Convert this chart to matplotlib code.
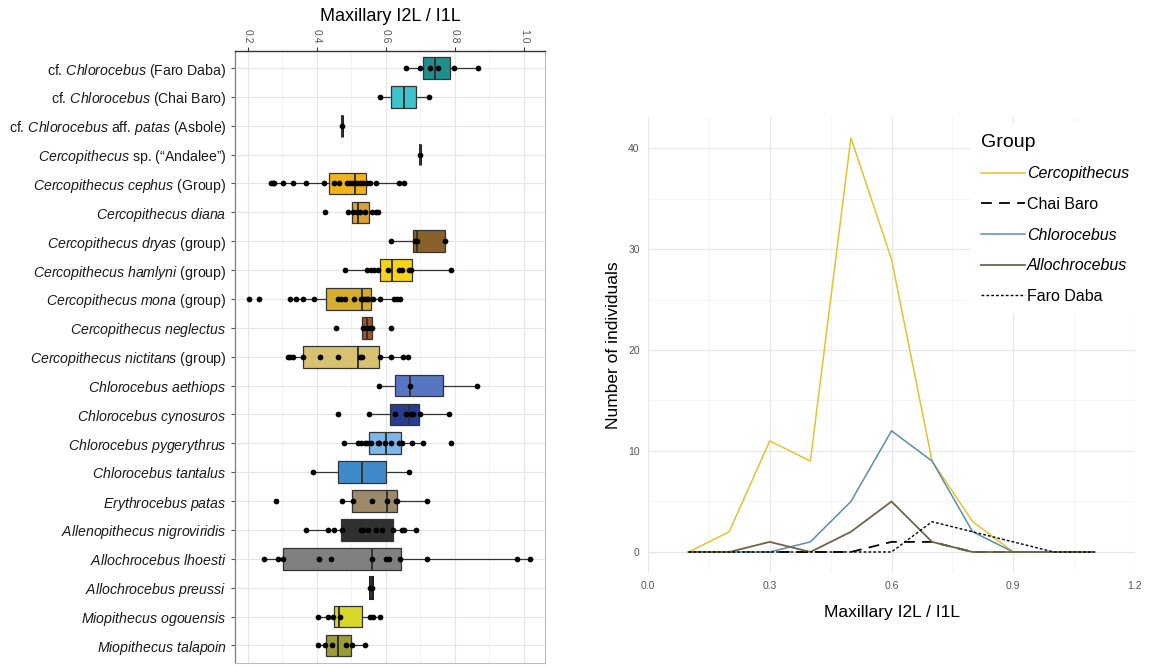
import matplotlib
matplotlib.use('Agg')
import matplotlib.pyplot as plt
from matplotlib.lines import Line2D

plt.rcParams['font.family'] = ['Liberation Sans', 'DejaVu Sans']
plt.rcParams['mathtext.fontset'] = 'custom'
plt.rcParams['mathtext.rm'] = 'Liberation Sans'
plt.rcParams['mathtext.it'] = 'Liberation Sans:italic'

# ---------------- Left panel data (box plot) ----------------
categories = [
    r"cf. $\mathit{Chlorocebus}$ (Faro Daba)",
    r"cf. $\mathit{Chlorocebus}$ (Chai Baro)",
    r"cf. $\mathit{Chlorocebus}$ aff. $\mathit{patas}$ (Asbole)",
    r"$\mathit{Cercopithecus}$ sp. (“Andalee”)",
    r"$\mathit{Cercopithecus\ cephus}$ (Group)",
    r"$\mathit{Cercopithecus\ diana}$ ",
    r"$\mathit{Cercopithecus\ dryas}$ (group)",
    r"$\mathit{Cercopithecus\ hamlyni}$ (group)",
    r"$\mathit{Cercopithecus\ mona}$ (group)",
    r"$\mathit{Cercopithecus\ neglectus}$ ",
    r"$\mathit{Cercopithecus\ nictitans}$ (group)",
    r"$\mathit{Chlorocebus\ aethiops}$",
    r"$\mathit{Chlorocebus\ cynosuros}$",
    r"$\mathit{Chlorocebus\ pygerythrus}$",
    r"$\mathit{Chlorocebus\ tantalus}$",
    r"$\mathit{Erythrocebus\ patas}$ ",
    r"$\mathit{Allenopithecus\ nigroviridis}$",
    r"$\mathit{Allochrocebus\ lhoesti}$ ",
    r"$\mathit{Allochrocebus\ preussi}$ ",
    r"$\mathit{Miopithecus\ ogouensis}$",
    r"$\mathit{Miopithecus\ talapoin}$",
]

whislo = [0.657, 0.584, 0.472, 0.700, 0.267, 0.489, 0.614, 0.481, 0.322, 0.530, 0.317,
          0.579, 0.551, 0.479, 0.389, 0.474, 0.369, 0.246, 0.553, 0.402, 0.404]
q1 = [0.708, 0.615, 0.472, 0.700, 0.436, 0.501, 0.680, 0.584, 0.427, 0.530, 0.360,
      0.627, 0.612, 0.551, 0.461, 0.501, 0.471, 0.302, 0.553, 0.450, 0.426]
med = [0.741, 0.652, 0.472, 0.700, 0.511, 0.520, 0.689, 0.618, 0.532, 0.544, 0.520,
       0.670, 0.667, 0.601, 0.531, 0.602, 0.549, 0.561, 0.558, 0.465, 0.462]
q3 = [0.787, 0.686, 0.472, 0.700, 0.542, 0.552, 0.771, 0.677, 0.557, 0.561, 0.581,
      0.765, 0.697, 0.643, 0.601, 0.632, 0.622, 0.643, 0.560, 0.532, 0.498]
whishi = [0.867, 0.724, 0.472, 0.700, 0.652, 0.578, 0.771, 0.789, 0.641, 0.561, 0.665,
          0.863, 0.784, 0.708, 0.668, 0.719, 0.687, 1.017, 0.560, 0.583, 0.539]

observations = [
    [0.657, 0.699, 0.729, 0.751, 0.797, 0.867],
    [0.584, 0.724],
    [0.472],
    [0.700],
    [0.267, 0.272, 0.276, 0.301, 0.331, 0.370, 0.421, 0.449, 0.465, 0.486, 0.496,
     0.505, 0.515, 0.525, 0.534, 0.544, 0.554, 0.570, 0.638, 0.652],
    [0.425, 0.489, 0.505, 0.515, 0.525, 0.539, 0.560, 0.570, 0.578],
    [0.614, 0.683, 0.689, 0.771],
    [0.481, 0.545, 0.557, 0.566, 0.576, 0.605, 0.639, 0.648, 0.667, 0.672, 0.789],
    [0.204, 0.233, 0.322, 0.341, 0.359, 0.392, 0.462, 0.471, 0.481, 0.508, 0.529,
     0.534, 0.539, 0.544, 0.548, 0.563, 0.583, 0.624, 0.631, 0.641],
    [0.455, 0.535, 0.545, 0.555, 0.560, 0.614],
    [0.317, 0.322, 0.331, 0.360, 0.408, 0.462, 0.525, 0.532, 0.583, 0.614, 0.650, 0.665],
    [0.579, 0.670, 0.863],
    [0.460, 0.551, 0.627, 0.658, 0.672, 0.680, 0.700, 0.784],
    [0.479, 0.520, 0.529, 0.539, 0.546, 0.558, 0.578, 0.580, 0.597, 0.615, 0.639,
     0.646, 0.675, 0.708, 0.788],
    [0.389, 0.668],
    [0.283, 0.474, 0.505, 0.561, 0.603, 0.628, 0.632, 0.719],
    [0.369, 0.431, 0.450, 0.474, 0.529, 0.534, 0.547, 0.570, 0.589, 0.621, 0.647,
     0.652, 0.687],
    [0.246, 0.288, 0.302, 0.406, 0.442, 0.561, 0.599, 0.610, 0.641, 0.719, 0.981, 1.017],
    [0.553, 0.560],
    [0.402, 0.433, 0.447, 0.466, 0.553, 0.562, 0.583],
    [0.404, 0.424, 0.443, 0.485, 0.501, 0.539],
]

box_colors = ['#1F8E8C', '#3CC3CC', '#333333', '#333333', '#F2B21C', '#D9A232',
              '#8A6128', '#F7D417', '#D4AE2C', '#A5542A', '#D6C271',
              '#5675C2', '#283E92', '#7CB6EA', '#3F8BC9', '#9D8A69',
              '#303030', '#808080', '#333333', '#D6D62B', '#9C9C3B']

# ---------------- Right panel data (frequency polygons) ----------------
bin_centres = [0.1, 0.2, 0.3, 0.4, 0.5, 0.6, 0.7, 0.8, 0.9, 1.0, 1.1]
groups = ['Cercopithecus', 'Chai Baro', 'Chlorocebus', 'Allochrocebus', 'Faro Daba']
cercopithecus = [0, 2, 11, 9, 41, 29, 9, 3, 0, 0, 0]
chai_baro = [0, 0, 0, 0, 0, 1, 1, 0, 0, 0, 0]
chlorocebus = [0, 0, 0, 1, 5, 12, 9, 2, 0, 0, 0]
allochrocebus = [0, 0, 1, 0, 2, 5, 1, 0, 0, 0, 0]
faro_daba = [0, 0, 0, 0, 0, 0, 3, 2, 1, 0, 0]
x_ticks_right = [0.0, 0.3, 0.6, 0.9, 1.2]
y_ticks_right = [0, 10, 20, 30, 40]

W, H = 1152, 666
fig = plt.figure(figsize=(W / 100, H / 100), dpi=100)
fig.patch.set_facecolor('white')

# ================= Left panel =================
ax1 = fig.add_axes([235 / W, 1 - 662.7 / H, 310 / W, (662.7 - 50.7) / H])
n = len(categories)
pos = list(range(n))
stats = []
for i in range(n):
    stats.append(dict(med=med[i], q1=q1[i], q3=q3[i], whislo=whislo[i],
                      whishi=whishi[i], fliers=[]))
edge = '#333333'
common = dict(positions=pos, widths=0.75, patch_artist=True, showcaps=False,
              showfliers=False,
              boxprops=dict(edgecolor=edge, linewidth=0.9),
              medianprops=dict(color=edge, linewidth=1.4),
              whiskerprops=dict(color=edge, linewidth=0.9), zorder=3)
try:
    bp = ax1.bxp(stats, orientation='horizontal', **common)
except TypeError:
    bp = ax1.bxp(stats, vert=False, **common)
for patch, c in zip(bp['boxes'], box_colors):
    patch.set_facecolor(c)
for i in (2, 3, 18):
    bp['boxes'][i].set_linewidth(2.2)
    bp['boxes'][i].set_edgecolor('#222222')

for i, vals in enumerate(observations):
    ax1.scatter(vals, [i] * len(vals), s=17, color='black', zorder=4, linewidths=0)

ax1.set_ylim(20.6, -0.6)
ax1.set_xlim(0.163, 1.061)
ax1.set_yticks(pos)
ax1.set_yticklabels(categories, fontsize=10.2, color='#1a1a1a')
ax1.set_xticks([0.2, 0.4, 0.6, 0.8, 1.0])
ax1.set_xticks([0.3, 0.5, 0.7, 0.9], minor=True)
ax1.xaxis.tick_top()
ax1.xaxis.set_label_position('top')
ax1.set_xticklabels(['0.2', '0.4', '0.6', '0.8', '1.0'], rotation=-90,
                    fontsize=7.5, color='#555555')
ax1.set_xlabel('Maxillary I2L / I1L', fontsize=13, labelpad=6)
ax1.tick_params(axis='x', which='major', length=3, color='#333333', pad=2)
ax1.tick_params(axis='x', which='minor', length=0)
ax1.tick_params(axis='y', length=3, color='#555555', pad=3)
ax1.grid(True, which='major', color='#E6E6E6', linewidth=0.8, zorder=0)
ax1.grid(True, which='minor', axis='x', color='#F0F0F0', linewidth=0.6, zorder=0)
ax1.set_axisbelow(True)
for side in ('right', 'bottom'):
    ax1.spines[side].set_color('#BBBBBB')
    ax1.spines[side].set_linewidth(0.8)
ax1.spines['top'].set_color('#333333')
ax1.spines['top'].set_linewidth(1.0)
ax1.spines['left'].set_color('#888888')
ax1.spines['left'].set_linewidth(1.0)

# ================= Right panel =================
ax2 = fig.add_axes([648 / W, 1 - 572.7 / H, (1135 - 648) / W, (572.7 - 117.2) / H])
series = [cercopithecus, chai_baro, chlorocebus, allochrocebus, faro_daba]
colors = ['#E6C22E', 'black', '#5A8DB0', '#6E6547', 'black']
styles = ['-', (0, (6, 4)), '-', '-', (0, (2, 1.5))]
widths = [1.1, 1.3, 1.1, 1.3, 1.0]
handles = []
for name, ys, c, ls, lw in zip(groups, series, colors, styles, widths):
    ln, = ax2.plot(bin_centres, ys, color=c, linestyle=ls, linewidth=lw, label=name)
    handles.append(ln)

ax2.set_xlim(0.0, 1.2)
ax2.set_ylim(-2.05, 43.05)
ax2.set_xticks(x_ticks_right)
ax2.set_xticklabels(['0.0', '0.3', '0.6', '0.9', '1.2'])
ax2.set_xticks([0.15, 0.45, 0.75, 1.05], minor=True)
ax2.set_yticks(y_ticks_right)
ax2.set_yticks([5, 15, 25, 35], minor=True)
ax2.tick_params(axis='both', which='both', length=0, labelsize=7.5,
                labelcolor='#555555', pad=6)
ax2.grid(True, which='major', color='#E8E8E8', linewidth=0.9)
ax2.grid(True, which='minor', color='#F2F2F2', linewidth=0.6)
ax2.set_axisbelow(True)
for s in ax2.spines.values():
    s.set_visible(False)
ax2.set_xlabel('Maxillary I2L / I1L', fontsize=12.5, labelpad=10)
ax2.set_ylabel('Number of individuals', fontsize=12.5, labelpad=5)

leg = fig.legend(handles=handles, labels=groups, loc='upper left',
                 bbox_to_anchor=(963 / W, 1 - 116 / H), frameon=True,
                 facecolor='white', edgecolor='white', framealpha=1.0,
                 fontsize=11.5, title='Group', title_fontsize=14,
                 handlelength=2.8, handletextpad=0.1, labelspacing=0.98,
                 borderpad=0.6, fancybox=False, alignment='left')
for t, name in zip(leg.get_texts(), groups):
    if name in ('Cercopithecus', 'Chlorocebus', 'Allochrocebus'):
        t.set_fontstyle('italic')

fig.savefig('out.png', dpi=100, facecolor='white')
